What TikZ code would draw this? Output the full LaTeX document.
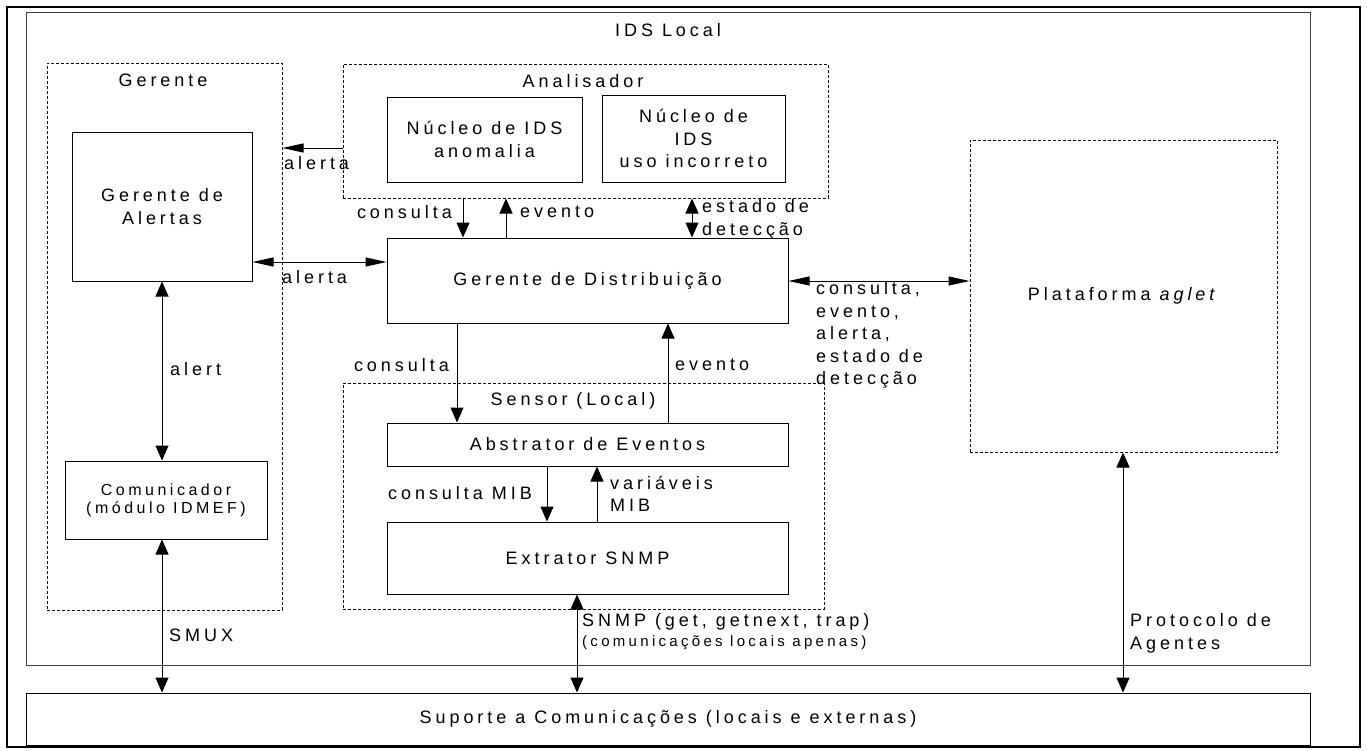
\documentclass[tikz,border=0pt]{standalone}
\usepackage{fontspec}
\setmainfont{Liberation Sans}[LetterSpace=22]
\usetikzlibrary{arrows.meta}

\begin{document}
\begin{tikzpicture}[x=1pt,y=-1pt,
  every node/.style={font=\fontsize{18}{22.5}\selectfont, inner sep=0pt},
  box/.style={draw, line width=1pt, align=center},
  group/.style={draw, line width=1pt, dash pattern=on 3pt off 2pt},
  small/.style={font=\fontsize{16}{18}\selectfont},
  lbl/.style={align=left},
  conn/.style={line width=1pt},
  varr/.style={conn, -{Triangle[length=15pt,width=13pt]}},
  vboth/.style={conn, {Triangle[length=15pt,width=13pt]}-{Triangle[length=15pt,width=13pt]}},
  harr/.style={conn, -{Triangle[length=21pt,width=9pt]}},
  hboth/.style={conn, {Triangle[length=21pt,width=9pt]}-{Triangle[length=21pt,width=9pt]}}]

\useasboundingbox (0,0) rectangle (1367,750);

% outer frame and the two main areas
\node[draw, line width=2.5pt, minimum width=1353pt, minimum height=740pt] (frame) at (683.5,377) {};
\node[draw, line width=1pt, draw=black!75, minimum width=1284pt, minimum height=653pt] (ids) at (668,338.5) {};
\node (tids) at (668,30) {IDS Local};
\node[box, minimum width=1284pt, minimum height=52pt] (suporte) at (668,719) {Suporte a Comunicações (locais e externas)};

% Gerente
\node[group, minimum width=235pt, minimum height=547pt] (gerente) at (164.5,336.5) {};
\node (tgerente) at (163,80) {Gerente};
\node[box, minimum width=180pt, minimum height=149pt] (galertas) at (162,206.5) {Gerente de\\Alertas};
\node[box, small, minimum width=202pt, minimum height=78pt] (comunicador) at (166,500) {Comunicador\\(módulo IDMEF)};

% Analisador
\node[group, minimum width=485pt, minimum height=134pt] (analisador) at (585.5,131) {};
\node (tanalisador) at (583,81) {Analisador};
\node[box, minimum width=195pt, minimum height=85pt] (nanom) at (484.5,139.5) {Núcleo de IDS\\anomalia};
\node[box, minimum width=183pt, minimum height=87pt] (nuso) at (693.5,138.5) {Núcleo de\\IDS\\uso incorreto};

% Gerente de Distribuicao
\node[box, minimum width=401pt, minimum height=85pt] (gdist) at (587.5,280.5) {Gerente de Distribuição};

% Plataforma aglet
\node[group, minimum width=307pt, minimum height=312pt] (plataforma) at (1123.5,296) {};
\node (tplataforma) at (1123.5,296) {Plataforma \textit{aglet}};

% Sensor (Local)
\node[group, minimum width=481pt, minimum height=226pt] (sensor) at (583.5,496) {};
\node (tsensor) at (573,401) {Sensor (Local)};
\node[box, minimum width=401pt, minimum height=43pt] (abstrator) at (587.5,444.5) {Abstrator de Eventos};
\node[box, minimum width=401pt, minimum height=72pt] (extrator) at (587.5,558) {Extrator SNMP};

% connector rows and columns
\coordinate (r1) at (0,148);
\coordinate (r2) at (0,262);
\coordinate (r3) at (0,281);
\coordinate (c1) at (162,0);
\coordinate (c2) at (463,0);
\coordinate (c3) at (506,0);
\coordinate (c4) at (692,0);
\coordinate (c5) at (457,0);
\coordinate (c6) at (668,0);
\coordinate (c7) at (547,0);
\coordinate (c8) at (597,0);
\coordinate (c9) at (577,0);
\coordinate (c10) at (1123,0);

% connectors
\draw[harr] (analisador.west |- r1) -- (gerente.east |- r1);
\draw[hboth] (galertas.east |- r2) -- (gdist.west |- r2);
\draw[varr] (analisador.south -| c2) -- (gdist.north -| c2);
\draw[varr] (gdist.north -| c3) -- (analisador.south -| c3);
\draw[vboth] (analisador.south -| c4) -- (gdist.north -| c4);
\draw[hboth] (gdist.east |- r3) -- (plataforma.west |- r3);
\draw[vboth] (galertas.south -| c1) -- (comunicador.north -| c1);
\draw[vboth] (comunicador.south -| c1) -- (suporte.north -| c1);
\draw[varr] (gdist.south -| c5) -- (abstrator.north -| c5);
\draw[varr] (abstrator.north -| c6) -- (gdist.south -| c6);
\draw[varr] (abstrator.south -| c7) -- (extrator.north -| c7);
\draw[varr] (extrator.north -| c8) -- (abstrator.south -| c8);
\draw[vboth] (extrator.south -| c9) -- (suporte.north -| c9);
\draw[vboth] (plataforma.south -| c10) -- (suporte.north -| c10);

% connector labels
\node[anchor=west] (l1) at (284,163) {alerta};
\node[anchor=west] (l2) at (282,277) {alerta};
\node[anchor=east] (l3) at (452,212) {consulta};
\node[anchor=west] (l4) at (520,212) {evento};
\node[anchor=west, lbl] (l5) at (702,219.5) {estado de\\detecção};
\node[anchor=west, lbl] (l6) at (816,335) {consulta,\\evento,\\alerta,\\estado de\\detecção};
\node[anchor=west] (l7) at (170,369) {alert};
\node[anchor=west] (l8) at (169,635) {SMUX};
\node[anchor=east] (l9) at (449,365) {consulta};
\node[anchor=west] (l10) at (675,365) {evento};
\node[anchor=east] (l11) at (532,493) {consulta MIB};
\node[anchor=west, lbl] (l12) at (610,494) {variáveis\\MIB};
\node[anchor=west] (l13) at (582,622) {SNMP (get, getnext, trap)};
\node[anchor=west, font=\fontsize{15}{17}\selectfont] (l14) at (582,643) {(comunicações locais apenas)};
\node[anchor=west, lbl] (l15) at (1130,633.5) {Protocolo de\\Agentes};
\end{tikzpicture}
\end{document}
